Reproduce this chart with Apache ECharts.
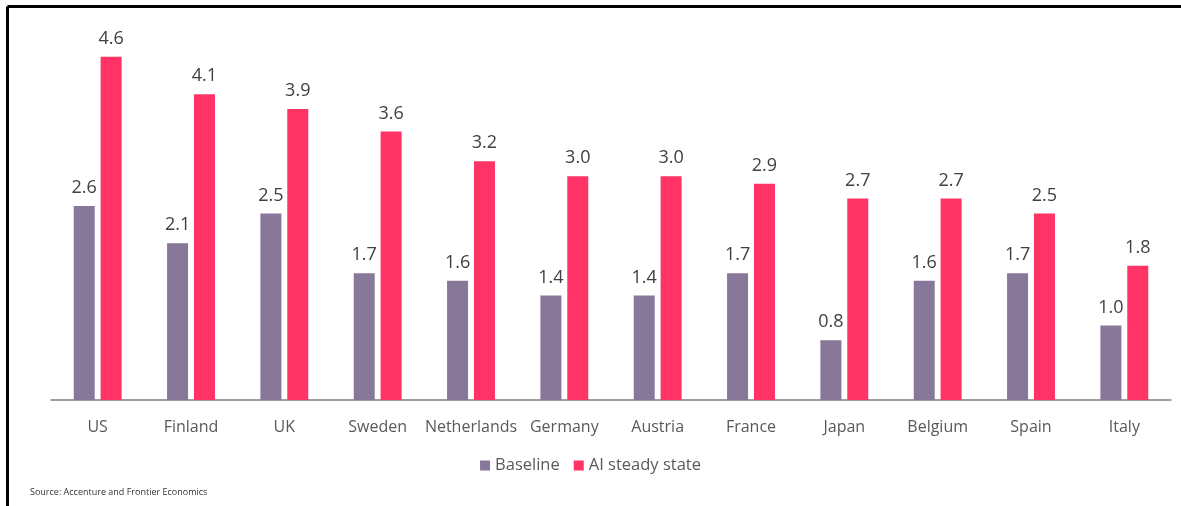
<!DOCTYPE html>
<html><head><meta charset="utf-8">
<script src="https://cdn.jsdelivr.net/npm/echarts@6/dist/echarts.min.js"></script>
<style>html,body{margin:0;padding:0;background:#fff}#c{width:1181px;height:506px}</style>
</head><body><div id="c"></div>
<script>
const categories = ["US","Finland","UK","Sweden","Netherlands","Germany","Austria","France","Japan","Belgium","Spain","Italy"];
const baseline = [2.6,2.1,2.5,1.7,1.6,1.4,1.4,1.7,0.8,1.6,1.7,1.0];
const aiSteady = [4.6,4.1,3.9,3.6,3.2,3.0,3.0,2.9,2.7,2.7,2.5,1.8];
const seriesNames = ["Baseline","AI steady state"];
const sourceText = "Source: Accenture and Frontier Economics";

const chart = echarts.init(document.getElementById('c'));
const font = "'Open Sans', 'Liberation Sans', sans-serif";
const lbl = {show:true, position:'top', distance:9, color:'#404040', fontSize:18, fontFamily:font, formatter:p=>p.value.toFixed(1)};
chart.setOption({
  animation:false,
  grid:{left:51, right:10, top:27, bottom:106},
  legend:{data:seriesNames, bottom:27, left:'center', itemWidth:10, itemHeight:10, itemGap:14, icon:'rect',
    textStyle:{color:'#595959', fontSize:16.5, fontFamily:font, padding:[0,0,0,0]}},
  xAxis:{type:'category', data:categories, axisTick:{show:false},
    axisLine:{lineStyle:{color:'#808080', width:1.5}},
    axisLabel:{interval:0, color:'#595959', fontSize:16, fontFamily:font, margin:19}},
  yAxis:{type:'value', min:0, max:5, show:false, splitLine:{show:false}},
  series:[
    {name:seriesNames[0], type:'bar', data:baseline, barWidth:21, barGap:'28%', itemStyle:{color:'#877799'}, label:lbl},
    {name:seriesNames[1], type:'bar', data:aiSteady, barWidth:21, itemStyle:{color:'#FF3366'}, label:lbl}
  ],
  graphic:[
    {type:'line', shape:{x1:7.5,y1:6.5,x2:1181,y2:6.5}, style:{stroke:'#000', lineWidth:3}},
    {type:'line', shape:{x1:7.5,y1:6.5,x2:7.5,y2:506}, style:{stroke:'#000', lineWidth:3}},
    {type:'text', left:30, top:488, style:{text:sourceText, fill:'#333', fontSize:9, fontFamily:font}}
  ]
});
</script></body></html>
